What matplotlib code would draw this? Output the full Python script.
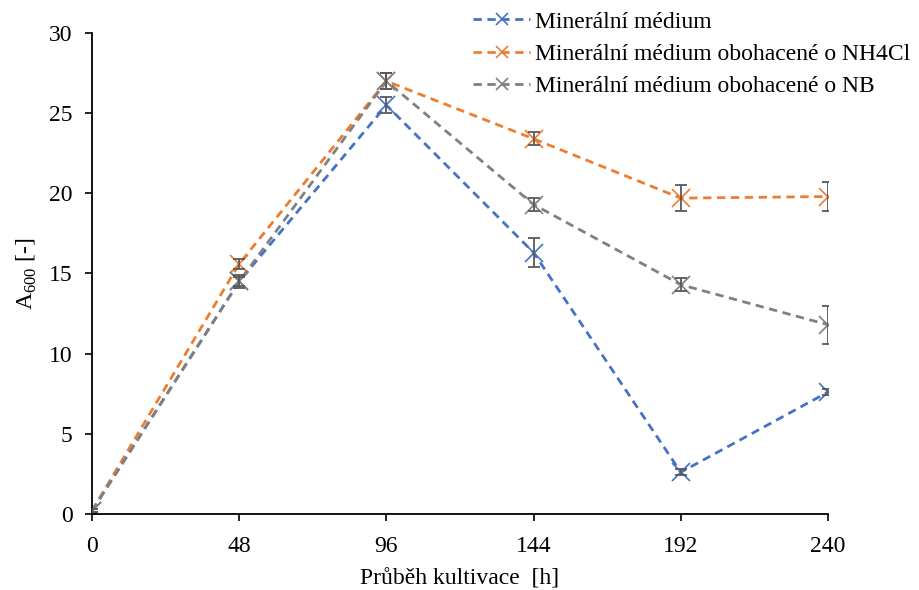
import matplotlib.pyplot as plt

plt.rcParams['font.family'] = ['Liberation Serif', 'DejaVu Serif']
plt.rcParams['mathtext.fontset'] = 'custom'
plt.rcParams['mathtext.rm'] = 'Liberation Serif'

# data
hours = [0, 48, 96, 144, 192, 240]
mineral = [0.2, 14.5, 25.5, 16.3, 2.6, 7.6]
mineral_err = [0.1, 0.3, 0.5, 0.9, 0.2, 0.2]
nh4cl = [0.2, 15.6, 27.0, 23.4, 19.7, 19.8]
nh4cl_err = [0.1, 0.3, 0.5, 0.4, 0.8, 0.9]
nb = [0.2, 14.5, 27.0, 19.3, 14.3, 11.8]
nb_err = [0.1, 0.4, 0.5, 0.4, 0.4, 1.2]

labels = ["Minerální médium",
          "Minerální médium obohacené o NH4Cl",
          "Minerální médium obohacené o NB"]
colors = ["#4472C4", "#ED7D31", "#808080"]

fig = plt.figure(figsize=(9.2, 5.9), dpi=100)
ax = fig.add_axes([0.1, 0.129, 0.8, 0.815])

for y, e, c, lab in zip([mineral, nh4cl, nb], [mineral_err, nh4cl_err, nb_err], colors, labels):
    ax.errorbar(hours, y, yerr=e, fmt='none', ecolor='#595959', elinewidth=1.3,
                capsize=4, capthick=1.3, zorder=3)
    ax.plot(hours, y, linestyle=(0, (3, 2)), color=c, linewidth=2, marker='x',
            markersize=13, markeredgewidth=1.2, label=lab, zorder=2)

ax.set_xlim(0, 240)
ax.set_ylim(0, 30)
ax.set_xticks(hours)
ax.set_yticks(range(0, 31, 5))
ax.tick_params(labelsize=17, direction='out', length=5, width=1.2)
ax.tick_params(axis='x', pad=11)
ax.tick_params(axis='y', pad=9)
for s in ['left', 'bottom']:
    ax.spines[s].set_linewidth(1.3)
ax.spines['top'].set_visible(False)
ax.spines['right'].set_visible(False)
ax.set_xlabel("Průběh kultivace  [h]", fontsize=17, labelpad=8)
ax.set_ylabel(r"A$_{\mathrm{600}}$ [-]", fontsize=17, labelpad=7)

fig.legend(loc='upper left', bbox_to_anchor=(0.499, 1.005), fontsize=17, frameon=False,
           handlelength=2.4, handletextpad=0.2, labelspacing=0.45, borderaxespad=0.2,
           markerscale=0.7)

fig.savefig("out.png", dpi=100)
